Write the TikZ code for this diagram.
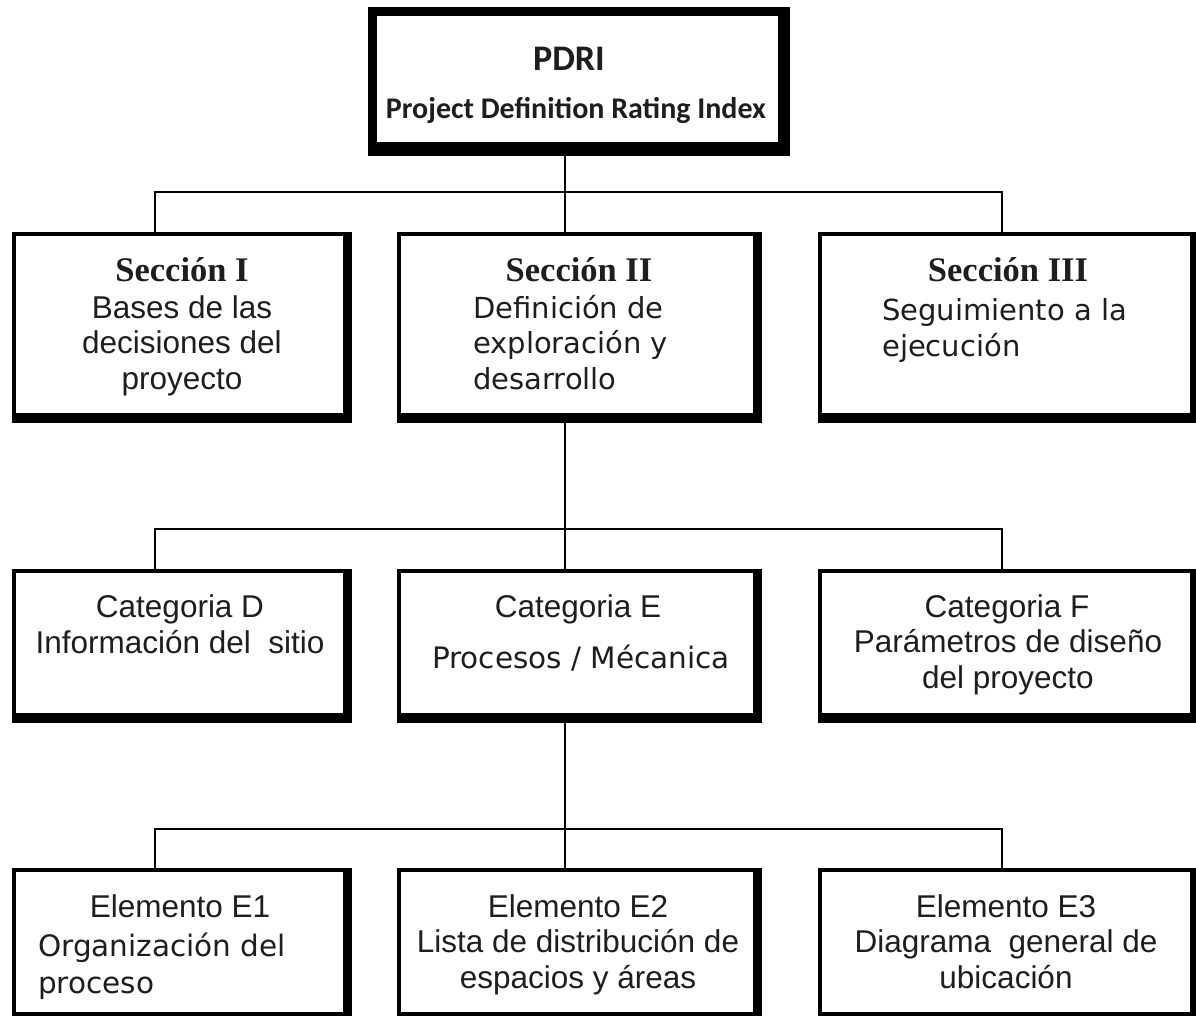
\documentclass[tikz,border=0pt]{standalone}
\usepackage{fontspec}
\setmainfont{Liberation Sans}
\newfontfamily\headfont{Liberation Serif}
\newfontfamily\verdfont{DejaVu Sans}
\newfontfamily\calfont{Carlito}
\definecolor{ink}{HTML}{1E1E1E}

\tikzset{
  box/.style={draw=black, line width=4pt, fill=white, inner sep=0pt},
  topbox/.style={draw=black, line width=9pt, fill=white, inner sep=0pt},
  link/.style={draw=black, line width=1.8pt},
  head/.style={font=\headfont\bfseries\fontsize{34.5}{36}\selectfont, text=ink, inner sep=0pt, anchor=base},
  sans/.style={font=\fontsize{31.5}{35.5}\selectfont, text=ink, inner sep=0pt, anchor=base},
  verd/.style={font=\verdfont\fontsize{29}{35.5}\selectfont, text=ink, inner sep=0pt, anchor=base},
}
% thick right and bottom edge of a box
\newcommand{\boxedge}[1]{%
  \fill ([xshift=-4pt]#1.north east) rectangle ([xshift=5pt,yshift=-6pt]#1.south east);
  \fill ([yshift=4pt]#1.south west) rectangle ([xshift=5pt,yshift=-6pt]#1.south east);}

\begin{document}
\begin{tikzpicture}[x=1pt,y=-1pt]
\useasboundingbox (0,0) rectangle (1196,1015);
\clip (0,0) rectangle (1196,1015);

% ===== Top: PDRI =====
\node[topbox, minimum width=410pt, minimum height=135pt] (pdri) at (577.5,79) {};
\fill ([xshift=-9pt]pdri.north east) rectangle ([xshift=3pt,yshift=-5pt]pdri.south east);
\fill ([yshift=9pt]pdri.south west) rectangle ([xshift=3pt,yshift=-5pt]pdri.south east);
\node[font=\calfont\bfseries\fontsize{36}{40}\selectfont, text=ink, anchor=base] (pdrit) at (569,70) {PDRI};
\node[font=\calfont\bfseries\fontsize{30}{36}\selectfont, text=ink, anchor=base] (pdrin) at (576,118) {Project Definition Rating Index};

% ===== Row 1: secciones =====
\node[box, minimum width=331pt, minimum height=181pt] (s1) at (179.5,324.5) {};
\node[box, minimum width=356pt, minimum height=181pt] (s2) at (577,324.5) {};
\node[box, minimum width=372pt, minimum height=181pt] (s3) at (1006,324.5) {};
\boxedge{s1}
\boxedge{s2}
\boxedge{s3}

\node[head] (s1h) at (182,281) {Sección I};
\node[sans, align=center] (s1b) at (182,389) {Bases de las\\decisiones del\\proyecto};
\node[head] (s2h) at (579,281) {Sección II};
\node[verd, align=left, anchor=base west] (s2b) at (473,389) {Definición de\\exploración y\\desarrollo};
\node[head] (s3h) at (1008,281) {Sección III};
\node[verd, align=left, anchor=base west] (s3b) at (882,356) {Seguimiento a la\\ejecución};

% ===== Row 2: categorias =====
\node[box, minimum width=331pt, minimum height=144pt] (cd) at (179.5,643) {};
\node[box, minimum width=356pt, minimum height=144pt] (ce) at (577,643) {};
\node[box, minimum width=372pt, minimum height=144pt] (cf) at (1006,643) {};
\boxedge{cd}
\boxedge{ce}
\boxedge{cf}

\node[sans] (cdh) at (180,617) {Categoria D};
\node[sans] (cdb) at (180,653) {Información del~~sitio};
\node[sans] (ceh) at (578,617) {Categoria E};
\node[verd, font=\verdfont\fontsize{29.5}{35.5}\selectfont] (ceb) at (581,668) {Procesos / Mécanica};
\node[sans] (cfh) at (1007,617) {Categoria F};
\node[sans, align=center] (cfb) at (1008,688) {Parámetros de diseño\\del proyecto};

% ===== Row 3: elementos =====
\node[box, minimum width=331pt, minimum height=144pt] (e1) at (179.5,942) {};
\node[box, minimum width=356pt, minimum height=144pt] (e2) at (577,942) {};
\node[box, minimum width=372pt, minimum height=144pt] (e3) at (1006,942) {};
\boxedge{e1}
\boxedge{e2}
\boxedge{e3}

\node[sans] (e1h) at (180,917) {Elemento E1};
\node[verd, font=\verdfont\fontsize{29.5}{37}\selectfont, align=left, anchor=base west] (e1b) at (38,993) {Organización del\\proceso};
\node[sans] (e2h) at (578,917) {Elemento E2};
\node[sans, align=center] (e2b) at (578,988) {Lista de distribución de\\espacios y áreas};
\node[sans] (e3h) at (1006,917) {Elemento E3};
\node[sans, align=center] (e3b) at (1006,988) {Diagrama~~general de\\ubicación};

% ===== Connectors =====
\coordinate (bus1) at (0,192);
\coordinate (bus2) at (0,529);
\coordinate (bus3) at (0,829);

\draw[link] ([xshift=-12.5pt]pdri.south) -- ([xshift=-12pt]s2.north);
\draw[link] ([xshift=-24.5pt]s1.north) |- ([xshift=-4pt]s3.north |- bus1) -- ([xshift=-4pt]s3.north);

\draw[link] ([xshift=-12pt]s2.south) -- ([xshift=-12pt]ce.north);
\draw[link] ([xshift=-24.5pt]cd.north) |- ([xshift=-4pt]cf.north |- bus2) -- ([xshift=-4pt]cf.north);

\draw[link] ([xshift=-12pt]ce.south) -- ([xshift=-12pt]e2.north);
\draw[link] ([xshift=-24.5pt]e1.north) |- ([xshift=-4pt]e3.north |- bus3) -- ([xshift=-4pt]e3.north);

\end{tikzpicture}
\end{document}
